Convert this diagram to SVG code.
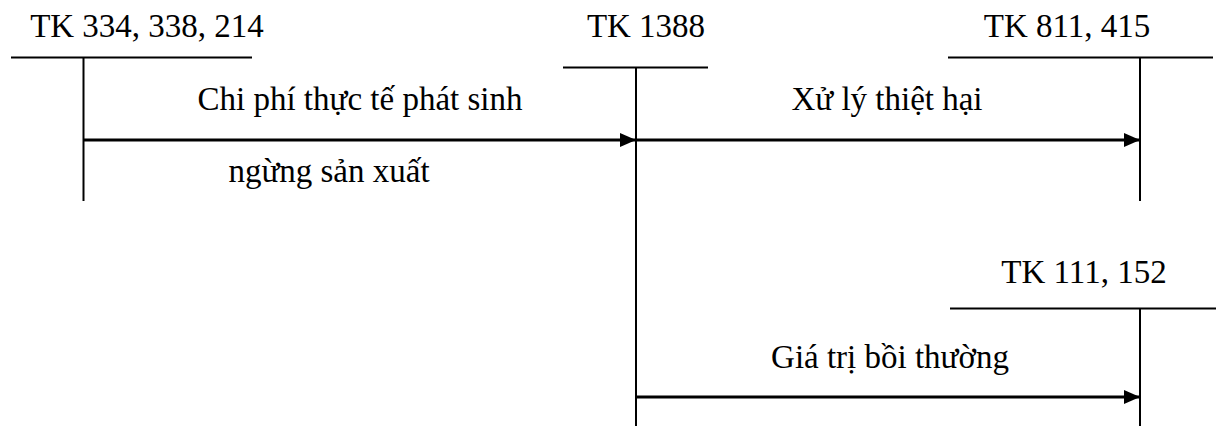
<svg xmlns="http://www.w3.org/2000/svg" width="1216" height="429" viewBox="0 0 1216 429">
  <style>
    .t { font-family: "Liberation Serif", "Times New Roman", serif; font-size: 33px; fill: #000; text-anchor: middle; }
    .acc { stroke: #000; stroke-width: 2; fill: none; }
    .flow { stroke: #000; stroke-width: 3; fill: none; }
  </style>
  <defs>
    <marker id="tip" viewBox="0 0 16 14" refX="16" refY="7" markerWidth="16" markerHeight="14" markerUnits="userSpaceOnUse" orient="auto">
      <path d="M0,0 L16,7 L0,14 Z" fill="#000"/>
    </marker>
  </defs>

  <!-- T-accounts -->
  <g id="tk334">
    <text class="t" x="147" y="37">TK 334, 338, 214</text>
    <line class="acc" x1="11" y1="57.5" x2="252" y2="57.5"/>
    <line class="acc" x1="83.5" y1="57.5" x2="83.5" y2="201"/>
  </g>
  <g id="tk1388">
    <text class="t" x="646" y="37">TK 1388</text>
    <line class="acc" x1="563" y1="67.5" x2="708" y2="67.5"/>
    <line class="acc" x1="636" y1="67.5" x2="636" y2="426"/>
  </g>
  <g id="tk811">
    <text class="t" x="1067" y="37">TK 811, 415</text>
    <line class="acc" x1="948" y1="57.5" x2="1213" y2="57.5"/>
    <line class="acc" x1="1140" y1="57.5" x2="1140" y2="201"/>
  </g>
  <g id="tk111">
    <text class="t" x="1084" y="283">TK 111, 152</text>
    <line class="acc" x1="950" y1="308.5" x2="1216" y2="308.5"/>
    <line class="acc" x1="1140" y1="308.5" x2="1140" y2="426"/>
  </g>

  <!-- Entries -->
  <g id="connectors">
    <line class="flow" x1="84" y1="140" x2="636" y2="140" marker-end="url(#tip)"/>
    <line class="flow" x1="636" y1="140" x2="1140" y2="140" marker-end="url(#tip)"/>
    <line class="flow" x1="636" y1="397" x2="1140" y2="397" marker-end="url(#tip)"/>
  </g>

  <g id="labels">
    <text class="t" x="360" y="110">Chi phí thực tế phát sinh</text>
    <text class="t" x="329" y="182">ngừng sản xuất</text>
    <text class="t" x="887" y="110">Xử lý thiệt hại</text>
    <text class="t" x="890" y="368">Giá trị bồi thường</text>
  </g>
</svg>
